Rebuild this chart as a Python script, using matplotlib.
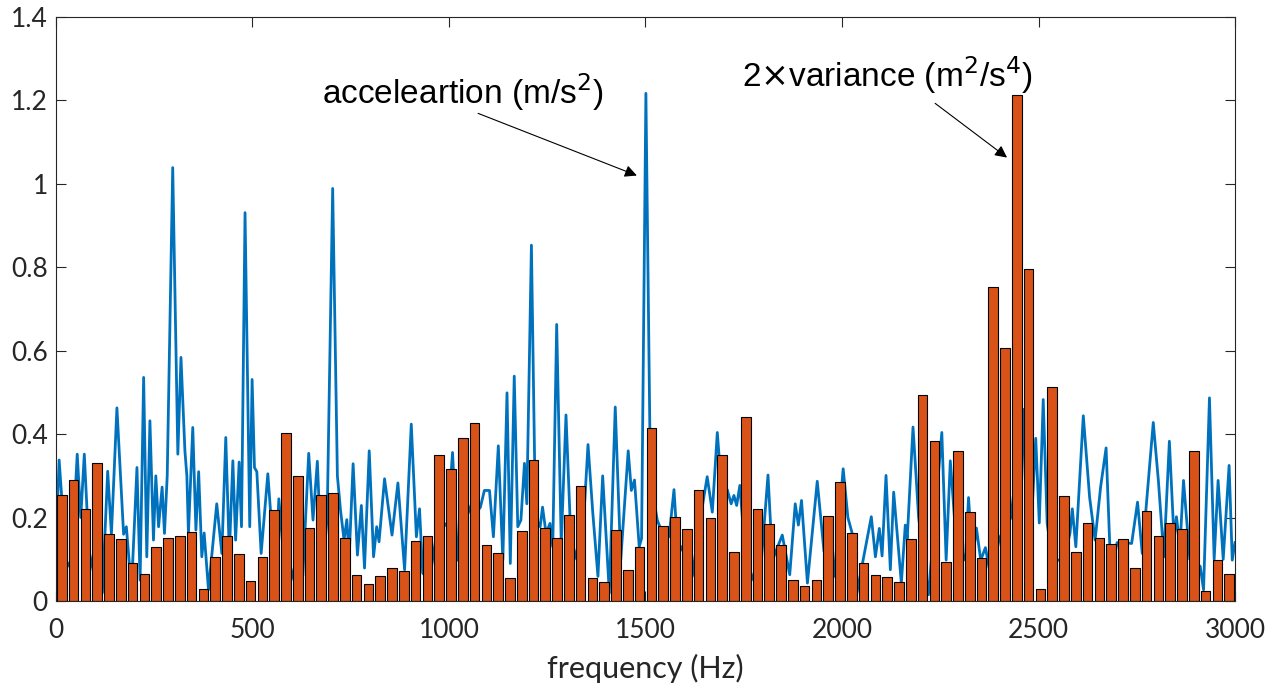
import matplotlib
matplotlib.use("Agg")
import matplotlib.pyplot as plt
import numpy as np

# ---- data ----
bar_freq = [15 + 30 * k for k in range(100)]
bar_vals = [
    0.253, 0.290, 0.221, 0.332, 0.161, 0.148, 0.090, 0.065, 0.130, 0.152,
    0.157, 0.166, 0.028, 0.105, 0.157, 0.113, 0.047, 0.106, 0.217, 0.403,
    0.299, 0.174, 0.253, 0.259, 0.151, 0.063, 0.040, 0.061, 0.079, 0.072,
    0.143, 0.157, 0.351, 0.317, 0.391, 0.426, 0.134, 0.115, 0.056, 0.168,
    0.338, 0.175, 0.151, 0.206, 0.276, 0.056, 0.046, 0.171, 0.075, 0.129,
    0.414, 0.179, 0.201, 0.173, 0.267, 0.198, 0.350, 0.117, 0.440, 0.221,
    0.184, 0.134, 0.051, 0.037, 0.051, 0.203, 0.286, 0.162, 0.090, 0.063,
    0.058, 0.046, 0.148, 0.493, 0.383, 0.093, 0.360, 0.213, 0.104, 0.752,
    0.606, 1.212, 0.795, 0.028, 0.513, 0.251, 0.117, 0.187, 0.151, 0.137,
    0.148, 0.079, 0.215, 0.155, 0.187, 0.173, 0.360, 0.023, 0.099, 0.065,
]

acc_freq = [
    0, 8, 27, 40, 54, 63, 72, 84, 100, 118, 131.5, 141, 155, 172, 179, 192, 206,
    214, 223, 231, 239, 248, 254, 261, 270, 276, 283, 297, 310, 318, 328, 333,
    337, 348, 356, 363, 371, 377, 388, 409, 422, 432, 441, 450, 457, 466, 472,
    481, 493, 499, 505, 511, 522, 539, 550, 560, 567, 580, 598, 612, 628, 643,
    654, 665, 677, 690, 704, 716, 724, 733, 740, 746, 756, 767, 777, 785, 797,
    808, 816, 822, 836, 855, 870, 887, 904, 917, 925, 933, 950, 975, 996, 1009,
    1022, 1040, 1060, 1080, 1090, 1103, 1113, 1125.5, 1137, 1147.6, 1156, 1166,
    1175, 1183, 1192, 1198, 1209.7, 1220, 1232, 1238, 1247, 1257, 1264, 1274,
    1285.6, 1297.7, 1310, 1325, 1340, 1353.7, 1366, 1379, 1391, 1408, 1423,
    1437, 1456, 1464, 1472, 1484, 1490, 1501, 1511, 1520, 1530, 1543, 1560,
    1572.5, 1581, 1590, 1605, 1619, 1640, 1657, 1670, 1682.7, 1695, 1708, 1718,
    1725, 1732, 1740, 1755, 1775, 1795, 1811.7, 1823, 1848, 1867, 1881, 1889,
    1897, 1912, 1937, 1954, 1980, 2003, 2015, 2026, 2038, 2074.6, 2085, 2095,
    2102, 2112, 2123, 2131.5, 2151, 2161, 2166, 2180.7, 2195, 2220, 2254, 2265,
    2275.6, 2290, 2314, 2322, 2332, 2342, 2353, 2365, 2380, 2400, 2430, 2460,
    2470, 2480, 2493, 2502, 2512, 2522, 2535, 2551, 2565, 2580, 2586, 2595,
    2614, 2630, 2644, 2658, 2672, 2684, 2700, 2715, 2737, 2752, 2764, 2792,
    2805, 2819, 2833, 2845, 2851, 2860, 2869, 2885, 2911.5, 2920, 2935, 2947,
    2957, 2970, 2985, 2993, 3000,
]
acc_vals = [
    0.14, 0.338, 0.08, 0.10, 0.352, 0.20, 0.352, 0.12, 0.05, 0.02, 0.311, 0.16,
    0.463, 0.16, 0.178, 0.027, 0.32, 0.05, 0.536, 0.106, 0.432, 0.146, 0.30,
    0.178, 0.273, 0.162, 0.30, 1.039, 0.352, 0.584, 0.36, 0.30, 0.162, 0.416,
    0.17, 0.31, 0.106, 0.163, 0.027, 0.233, 0.114, 0.392, 0.114, 0.336, 0.146,
    0.333, 0.178, 0.931, 0.178, 0.531, 0.32, 0.31, 0.114, 0.305, 0.162, 0.10,
    0.245, 0.10, 0.05, 0.10, 0.06, 0.354, 0.194, 0.335, 0.06, 0.20, 0.989, 0.30,
    0.217, 0.146, 0.195, 0.106, 0.329, 0.11, 0.229, 0.079, 0.36, 0.106, 0.178,
    0.142, 0.293, 0.158, 0.283, 0.075, 0.424, 0.154, 0.221, 0.067, 0.05, 0.20,
    0.178, 0.356, 0.098, 0.25, 0.20, 0.225, 0.265, 0.265, 0.154, 0.372, 0.098,
    0.499, 0.09, 0.539, 0.178, 0.194, 0.33, 0.233, 0.853, 0.20, 0.178, 0.225,
    0.162, 0.186, 0.13, 0.663, 0.138, 0.446, 0.15, 0.10, 0.15, 0.375, 0.21,
    0.059, 0.30, 0.019, 0.465, 0.098, 0.36, 0.265, 0.29, 0.13, 0.15, 1.217,
    0.416, 0.25, 0.194, 0.162, 0.154, 0.267, 0.138, 0.13, 0.10, 0.059, 0.20,
    0.298, 0.213, 0.404, 0.25, 0.267, 0.233, 0.253, 0.229, 0.277, 0.10, 0.05,
    0.10, 0.302, 0.098, 0.158, 0.063, 0.233, 0.182, 0.241, 0.043, 0.287, 0.12,
    0.059, 0.317, 0.20, 0.162, 0.02, 0.202, 0.106, 0.174, 0.108, 0.301, 0.075,
    0.261, 0.043, 0.182, 0.15, 0.417, 0.20, 0.015, 0.404, 0.098, 0.336, 0.15,
    0.098, 0.248, 0.098, 0.175, 0.098, 0.128, 0.05, 0.15, 0.20, 0.46, 0.20,
    0.15, 0.39, 0.187, 0.483, 0.186, 0.10, 0.098, 0.10, 0.162, 0.221, 0.13,
    0.444, 0.249, 0.146, 0.273, 0.367, 0.067, 0.14, 0.14, 0.138, 0.237, 0.114,
    0.428, 0.289, 0.106, 0.383, 0.146, 0.202, 0.13, 0.289, 0.10, 0.083, 0.027,
    0.487, 0.10, 0.289, 0.10, 0.325, 0.098, 0.14,
]

x_ticks = [0, 500, 1000, 1500, 2000, 2500, 3000]
y_ticks = [0, 0.2, 0.4, 0.6, 0.8, 1.0, 1.2, 1.4]
y_ticklabels = ["0", "0.2", "0.4", "0.6", "0.8", "1", "1.2", "1.4"]

# ---- figure ----
W, H, DPI = 1286, 695, 100
fig = plt.figure(figsize=(W / DPI, H / DPI), dpi=DPI)
ax = fig.add_axes([56 / W, 1 - 601 / H, (1235 - 56) / W, (601 - 17) / H])

ax.plot(acc_freq, acc_vals, color="#0072BD", lw=2.0, zorder=2,
        solid_joinstyle="round")
ax.bar(bar_freq, bar_vals, width=24.5, color="#D95319", edgecolor="black",
       linewidth=0.8, zorder=3)

ax.set_xlim(0, 3000)
ax.set_ylim(0, 1.4)
ax.set_xticks(x_ticks)
ax.set_yticks(y_ticks)
ax.set_yticklabels(y_ticklabels)

axcol = "#262626"
for s in ax.spines.values():
    s.set_color(axcol)
    s.set_linewidth(0.8)
    s.set_zorder(5)
ax.tick_params(direction="in", length=7, width=0.8, color=axcol,
               labelcolor=axcol, labelsize=19, top=True, right=True)
ax.tick_params(axis="x", pad=12)
ax.tick_params(axis="y", pad=6)
for lab in ax.get_xticklabels() + ax.get_yticklabels():
    lab.set_family("Lato")

ax.set_xlabel("frequency (Hz)", fontsize=22, family="Lato", color=axcol,
              labelpad=8)

txtfont = dict(family="Liberation Sans", fontsize=24, color="black")
ax.text(1036, 1.219, r"acceleartion (m/s$^2$)", ha="center", va="center",
        **txtfont)
ax.text(2115, 1.26, r"2$\times$variance (m$^2$/s$^4$)", ha="center",
        va="center", **txtfont)
ax.annotate("", xy=(1478, 1.02), xytext=(1074, 1.169),
            arrowprops=dict(arrowstyle="-|>", color="black", lw=0.8,
                            mutation_scale=18, shrinkA=0, shrinkB=0))
ax.annotate("", xy=(2420, 1.063), xytext=(2237, 1.193),
            arrowprops=dict(arrowstyle="-|>", color="black", lw=0.8,
                            mutation_scale=18, shrinkA=0, shrinkB=0))

fig.savefig("out.png", dpi=DPI)
